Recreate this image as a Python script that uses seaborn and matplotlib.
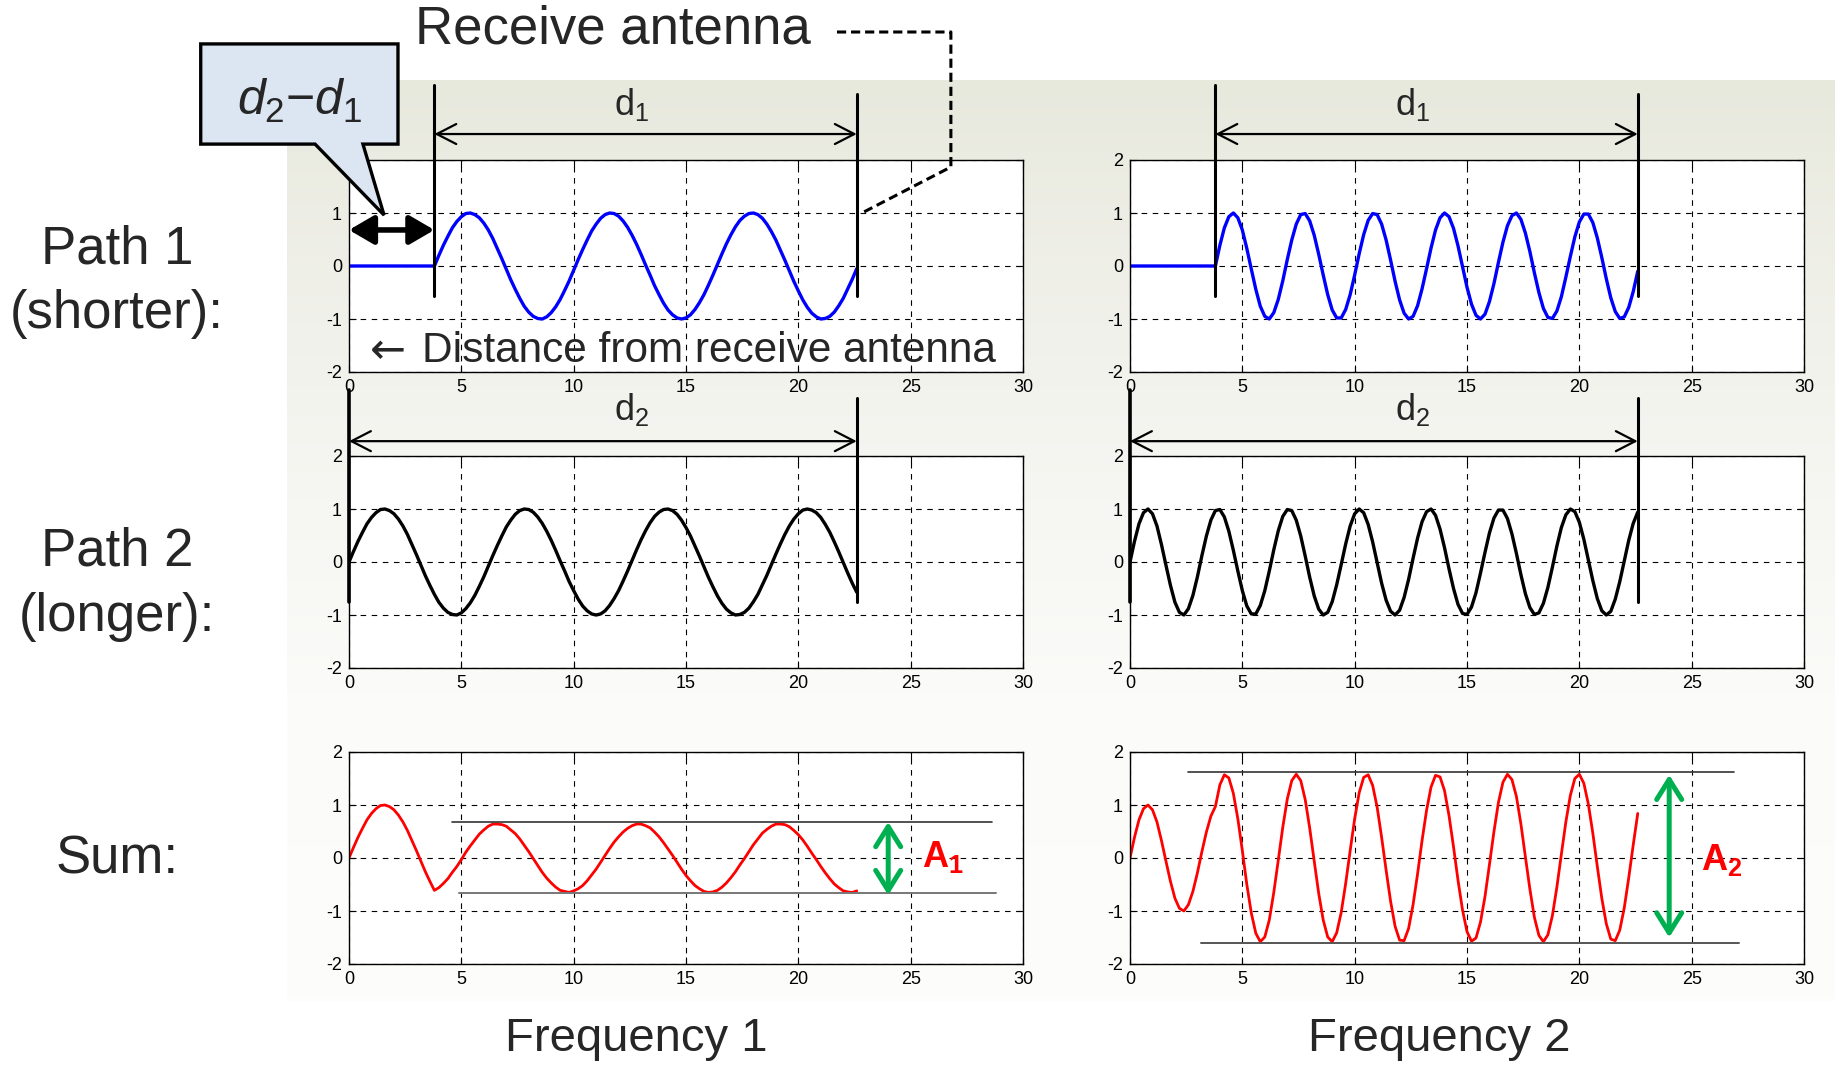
import numpy as np
import matplotlib
matplotlib.use("Agg")
import matplotlib.pyplot as plt
from matplotlib.patches import Polygon
from matplotlib.colors import LinearSegmentedColormap
import seaborn as sns

# sample positions along the distance axis
distance = np.round(np.arange(0, 22.61, 0.2), 1)
path1_start = 3.8          # d2 - d1
path_end = 22.6

# frequency 1, longer path (starts right at the antenna)
path2_f1 = [0.00, 0.20, 0.39, 0.56, 0.72, 0.84, 0.93, 0.99, 1.00, 0.97,
            0.91, 0.81, 0.68, 0.52, 0.33, 0.14, -0.06, -0.26, -0.44, -0.61,
            -0.76, -0.87, -0.95, -0.99, -1.00, -0.96, -0.88, -0.77, -0.63, -0.46,
            -0.28, -0.08, 0.12, 0.31, 0.49, 0.66, 0.79, 0.90, 0.97, 1.00,
            0.99, 0.94, 0.85, 0.73, 0.58, 0.41, 0.22, 0.02, -0.17, -0.37,
            -0.54, -0.70, -0.83, -0.92, -0.98, -1.00, -0.98, -0.92, -0.82, -0.69,
            -0.54, -0.36, -0.17, 0.03, 0.23, 0.42, 0.59, 0.74, 0.86, 0.94,
            0.99, 1.00, 0.97, 0.90, 0.79, 0.65, 0.49, 0.30, 0.11, -0.09,
            -0.29, -0.47, -0.64, -0.78, -0.89, -0.96, -1.00, -0.99, -0.95, -0.87,
            -0.75, -0.61, -0.43, -0.25, -0.05, 0.15, 0.34, 0.52, 0.68, 0.81,
            0.91, 0.98, 1.00, 0.98, 0.93, 0.84, 0.71, 0.56, 0.38, 0.19,
            -0.01, -0.21, -0.40, -0.57]

# frequency 1, shorter path (from x = 3.8 on)
path1_f1 = [0.00, 0.20, 0.39, 0.56, 0.72, 0.84, 0.93, 0.99, 1.00, 0.97,
            0.91, 0.81, 0.68, 0.52, 0.33, 0.14, -0.06, -0.26, -0.44, -0.61,
            -0.76, -0.87, -0.95, -0.99, -1.00, -0.96, -0.88, -0.77, -0.63, -0.46,
            -0.28, -0.08, 0.12, 0.31, 0.49, 0.66, 0.79, 0.90, 0.97, 1.00,
            0.99, 0.94, 0.85, 0.73, 0.58, 0.41, 0.22, 0.02, -0.17, -0.37,
            -0.54, -0.70, -0.83, -0.92, -0.98, -1.00, -0.98, -0.92, -0.82, -0.69,
            -0.54, -0.36, -0.17, 0.03, 0.23, 0.42, 0.59, 0.74, 0.86, 0.94,
            0.99, 1.00, 0.97, 0.90, 0.79, 0.65, 0.49, 0.30, 0.11, -0.09,
            -0.29, -0.47, -0.64, -0.78, -0.89, -0.96, -1.00, -0.99, -0.95, -0.87,
            -0.75, -0.61, -0.43, -0.25, -0.05]

# frequency 2, longer path
path2_f2 = [0.00, 0.39, 0.72, 0.93, 1.00, 0.91, 0.68, 0.33, -0.06, -0.44,
            -0.76, -0.95, -1.00, -0.88, -0.63, -0.28, 0.12, 0.49, 0.79, 0.97,
            0.99, 0.85, 0.58, 0.22, -0.17, -0.54, -0.83, -0.98, -0.98, -0.82,
            -0.54, -0.17, 0.23, 0.59, 0.86, 0.99, 0.97, 0.79, 0.49, 0.11,
            -0.29, -0.64, -0.89, -1.00, -0.95, -0.75, -0.43, -0.05, 0.34, 0.68,
            0.91, 1.00, 0.93, 0.71, 0.38, -0.01, -0.40, -0.72, -0.93, -1.00,
            -0.91, -0.67, -0.33, 0.07, 0.45, 0.76, 0.95, 1.00, 0.88, 0.62,
            0.27, -0.13, -0.50, -0.80, -0.97, -0.99, -0.85, -0.58, -0.21, 0.18,
            0.55, 0.83, 0.98, 0.98, 0.82, 0.53, 0.16, -0.24, -0.60, -0.86,
            -0.99, -0.96, -0.78, -0.48, -0.10, 0.30, 0.65, 0.89, 1.00, 0.95,
            0.75, 0.43, 0.04, -0.35, -0.69, -0.92, -1.00, -0.93, -0.70, -0.37,
            0.02, 0.41, 0.73, 0.94]

# frequency 2, shorter path (from x = 3.8 on)
path1_f2 = [0.00, 0.39, 0.72, 0.93, 1.00, 0.91, 0.68, 0.33, -0.06, -0.44,
            -0.76, -0.95, -1.00, -0.88, -0.63, -0.28, 0.12, 0.49, 0.79, 0.97,
            0.99, 0.85, 0.58, 0.22, -0.17, -0.54, -0.83, -0.98, -0.98, -0.82,
            -0.54, -0.17, 0.23, 0.59, 0.86, 0.99, 0.97, 0.79, 0.49, 0.11,
            -0.29, -0.64, -0.89, -1.00, -0.95, -0.75, -0.43, -0.05, 0.34, 0.68,
            0.91, 1.00, 0.93, 0.71, 0.38, -0.01, -0.40, -0.72, -0.93, -1.00,
            -0.91, -0.67, -0.33, 0.07, 0.45, 0.76, 0.95, 1.00, 0.88, 0.62,
            0.27, -0.13, -0.50, -0.80, -0.97, -0.99, -0.85, -0.58, -0.21, 0.18,
            0.55, 0.83, 0.98, 0.98, 0.82, 0.53, 0.16, -0.24, -0.60, -0.86,
            -0.99, -0.96, -0.78, -0.48, -0.10]

sum_amplitude = [0.66, 1.6]     # A1, A2
x_ticks = [0, 5, 10, 15, 20, 25, 30]
y_ticks = [-2, -1, 0, 1, 2]

# nothing arrives on path 1 before x = d2 - d1
n_pad = len(distance) - len(path1_f1)
path1_f1_full = np.concatenate([np.zeros(n_pad), path1_f1])
path1_f2_full = np.concatenate([np.zeros(n_pad), path1_f2])
sum_f1 = np.array(path2_f1) + path1_f1_full
sum_f2 = np.array(path2_f2) + path1_f2_full

sns.set_style("ticks")
plt.rcParams["font.family"] = ["Liberation Sans", "DejaVu Sans"]
plt.rcParams["mathtext.fontset"] = "custom"
plt.rcParams["mathtext.rm"] = "Liberation Sans"
plt.rcParams["mathtext.it"] = "Liberation Sans:italic"
plt.rcParams["mathtext.bf"] = "Liberation Sans:bold"
plt.rcParams["axes.unicode_minus"] = False

W, H = 1835, 1065
fig = plt.figure(figsize=(W / 100, H / 100), dpi=100)
fig.patch.set_facecolor("white")

# shaded slide background behind the plots
bg = fig.add_axes([287 / W, 1 - 1001 / H, 1 - 287 / W, (1001 - 80) / H], zorder=-10)
bg_cmap = LinearSegmentedColormap.from_list("bg", ["#E8E9DD", "#F3F3EE", "#FBFBF9", "#FDFDFC"])
bg.imshow(np.linspace(0, 1, 256)[:, None], aspect="auto", cmap=bg_cmap)
bg.axis("off")

col_x = [349, 1130]
row_top = [160, 456, 752]
axs = [[None, None] for _ in range(3)]
for r in range(3):
    for c in range(2):
        ax = fig.add_axes([col_x[c] / W, 1 - (row_top[r] + 212) / H, 674 / W, 212 / H])
        ax.set_facecolor("white")
        axs[r][c] = ax

series = [
    [(path1_f1_full, "#0000FF"), (path1_f2_full, "#0000FF")],
    [(path2_f1, "black"), (path2_f2, "black")],
    [(sum_f1, "#FF0000"), (sum_f2, "#FF0000")],
]
for r in range(3):
    for c in range(2):
        ax = axs[r][c]
        y, col = series[r][c]
        sns.lineplot(x=distance, y=y, ax=ax, color=col, linewidth=2.4 if r < 2 else 2.0,
                     estimator=None, sort=False, legend=False)
        ax.set_xlim(0, 30)
        ax.set_ylim(-2, 2)
        ax.set_xticks(x_ticks)
        ax.set_yticks(y_ticks)
        ax.set_xlabel("")
        ax.set_ylabel("")
        ax.grid(True, color="black", linestyle=(0, (5, 5)), linewidth=0.8)
        ax.tick_params(direction="in", top=True, right=True, length=5, labelsize=13,
                       pad=5, colors="black")
        for s in ax.spines.values():
            s.set_color("black")
            s.set_linewidth(1.0)

arrow_open = dict(arrowstyle="<->,head_length=0.7,head_width=0.36", lw=1.6, color="black",
                  mutation_scale=20, shrinkA=0, shrinkB=0)

# d1 dimension lines
for c in range(2):
    ax = axs[0][c]
    ax.plot([path1_start, path1_start], [-0.57, 3.42], color="black", lw=2.2, clip_on=False)
    ax.plot([path_end, path_end], [-0.57, 3.25], color="black", lw=2.2, clip_on=False)
    ax.annotate("", xy=(path1_start, 2.49), xytext=(path_end, 2.49), arrowprops=arrow_open,
                annotation_clip=False)
    ax.text(12.6, 3.04, r"$\mathrm{d}_1$", ha="center", va="center", fontsize=26)

# d2 dimension lines
for c in range(2):
    ax = axs[1][c]
    ax.plot([0, 0], [-0.76, 3.25], color="black", lw=2.6, clip_on=False)
    ax.plot([path_end, path_end], [-0.76, 3.09], color="black", lw=2.2, clip_on=False)
    ax.annotate("", xy=(0, 2.28), xytext=(path_end, 2.28), arrowprops=arrow_open,
                annotation_clip=False)
    ax.text(12.6, 2.87, r"$\mathrm{d}_2$", ha="center", va="center", fontsize=26)

# path-difference arrow and callout
ax = axs[0][0]
ax.annotate("", xy=(0, 0.68), xytext=(path1_start, 0.68),
            arrowprops=dict(arrowstyle="<|-|>,head_length=0.6,head_width=0.35", lw=4,
                            color="black", mutation_scale=25, shrinkA=0, shrinkB=0),
            annotation_clip=False)
callout = Polygon([(-6.6, 4.19), (2.18, 4.19), (2.18, 2.30), (0.62, 2.30), (1.56, 0.96),
                   (-1.51, 2.30), (-6.6, 2.30)], closed=True, facecolor="#DCE6F2",
                  edgecolor="black", lw=2.4, clip_on=False, zorder=20, joinstyle="miter")
ax.add_patch(callout)
ax.text(-2.2, 3.12, r"$d_2$" + "\u2212" + r"$d_1$", ha="center", va="center", fontsize=36,
        zorder=21)

ax.text(0.95, -1.6, "\u2190", ha="left", va="center", fontsize=31,
        family=["DejaVu Sans"])
ax.text(3.27, -1.6, "Distance from receive antenna", ha="left", va="center",
        fontsize=30.5)

# receive antenna label and dashed leader
ax.text(2.94, 4.47, "Receive antenna", ha="left", va="center", fontsize=38, clip_on=False)
ax.plot([21.72, 26.79, 26.79, 22.83], [4.415, 4.415, 1.868, 1.0], color="black", lw=2.2,
        linestyle=(0, (3, 1.6)), clip_on=False)

# amplitude markers on the sum row
green_arrow = dict(arrowstyle="<->,head_length=0.72,head_width=0.45", lw=3.6, color="#00B050",
                   mutation_scale=20, shrinkA=0, shrinkB=0)
ax = axs[2][0]
a = sum_amplitude[0]
ax.plot([4.6, 28.6], [a + 0.02, a + 0.02], color="#333333", lw=1.2)
ax.plot([4.9, 28.8], [-a, -a], color="#777777", lw=1.4)
ax.annotate("", xy=(24.0, a + 0.02), xytext=(24.0, -a - 0.04), arrowprops=green_arrow)
ax.text(25.5, 0.02, r"$\mathbf{A}_\mathbf{1}$", color="#FF0000", fontsize=26,
        ha="left", va="center")

ax = axs[2][1]
a = sum_amplitude[1]
ax.plot([2.6, 26.9], [a + 0.02, a + 0.02], color="#333333", lw=1.2)
ax.plot([3.15, 27.1], [-a, -a], color="#555555", lw=1.4)
ax.annotate("", xy=(24.0, a - 0.03), xytext=(24.0, -a + 0.1), arrowprops=green_arrow)
ax.text(25.4, -0.04, r"$\mathbf{A}_\mathbf{2}$", color="#FF0000", fontsize=26,
        ha="left", va="center")

# row and column labels
row_labels = [("Path 1", 249), ("(shorter):", 314), ("Path 2", 552), ("(longer):", 617),
              ("Sum:", 860)]
for txt, yy in row_labels:
    fig.text(117 / W, 1 - yy / H, txt, ha="center", va="center", fontsize=38)
fig.text(636 / W, 1 - 1039 / H, "Frequency 1", ha="center", va="center", fontsize=34)
fig.text(1439 / W, 1 - 1039 / H, "Frequency 2", ha="center", va="center", fontsize=34)

fig.savefig("out.png", dpi=100)
